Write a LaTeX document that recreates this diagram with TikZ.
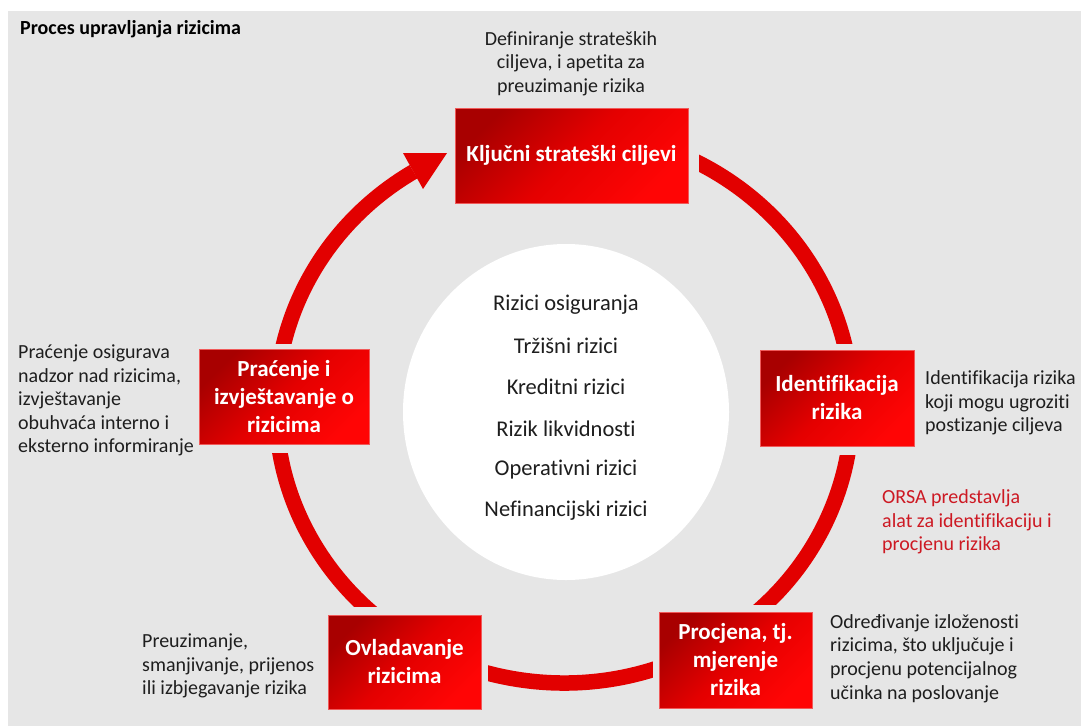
\documentclass[tikz,border=0pt]{standalone}
\usepackage{fontspec}
\setmainfont{Carlito}[Ligatures=NoCommon]
\definecolor{bggray}{RGB}{230,230,230}
\definecolor{ringred}{RGB}{226,0,0}
\definecolor{boxdark}{RGB}{168,0,0}
\definecolor{boxmid}{RGB}{228,0,0}
\definecolor{boxred}{RGB}{255,5,5}
\definecolor{boxedge}{RGB}{240,90,90}
\definecolor{txt}{RGB}{30,30,30}
\definecolor{orsared}{RGB}{205,25,35}
\newcommand\boxfont{\fontsize{23}{28}\selectfont\bfseries}
\newcommand\descfont{\fontsize{20}{23.6}\selectfont}
\newcommand\riskfont{\fontsize{22.5}{26}\selectfont}
\newcommand\titlefont{\fontsize{20}{23}\selectfont\bfseries}
\pgfdeclarelayer{back}
\pgfdeclarelayer{ringlayer}
\pgfdeclarelayer{gaplayer}
\pgfsetlayers{back,ringlayer,gaplayer,main}
\begin{document}
\begin{tikzpicture}[x=1pt,y=1pt,
  stepbox/.style={draw=boxedge, line width=0.5pt, top color=boxdark, bottom color=boxred, middle color=boxmid, shading angle=45,
     text=white, font=\boxfont, align=center, inner sep=0pt},
  desc/.style={font=\descfont, text=txt, inner sep=0pt},
  risk/.style={font=\riskfont, text=txt, inner sep=0pt, anchor=center},
  ring/.style={draw=ringred, line width=15.5pt},
  gapfill/.style={fill=bggray}]
\useasboundingbox (0,0) rectangle (1081,-726);
\begin{pgfonlayer}{back}
  \fill[white] (0,0) rectangle (1081,-726);
  \fill[bggray] (8,-11) rectangle (1081,-726);
  \fill[white] (566,-412) ellipse[x radius=163pt, y radius=168pt];
\end{pgfonlayer}

% title
\node[font=\titlefont, text=black, inner sep=0pt, anchor=base west] (title) at (20,-34) {Proces upravljanja rizicima};

% boxes
\node[stepbox, minimum width=233pt, minimum height=95pt] (kljucni) at (571.5,-155.5) {Ključni strateški ciljevi};
\node[stepbox, minimum width=154pt, minimum height=96pt] (ident) at (837,-398) {Identifikacija\\rizika};
\node[stepbox, minimum width=153pt, minimum height=96pt] (procjena) at (735.5,-660) {Procjena, tj.\\mjerenje\\rizika};
\node[stepbox, minimum width=153pt, minimum height=94pt] (ovlad) at (404.5,-662) {Ovladavanje\\rizicima};
\node[stepbox, minimum width=170pt, minimum height=95pt] (pracenje) at (284,-396.5) {Praćenje i\\izvještavanje o\\rizicima};

% ring
\coordinate (C) at (564,-407);
\begin{pgfonlayer}{ringlayer}
  \draw[ring] (C) ++(121.5:288pt and 276pt) coordinate (arrowbase)
     arc[start angle=121.5, end angle=432, x radius=288pt, y radius=276pt];
\end{pgfonlayer}
\begin{pgfonlayer}{gaplayer}
  \fill[gapfill] ([shift={(-10,10)}]kljucni.north west) rectangle ([shift={(11,-10)}]kljucni.south east);
  \fill[gapfill] ([shift={(-7,6)}]ident.north west) rectangle ([shift={(7,-9)}]ident.south east);
  \fill[gapfill] ([shift={(-6,7)}]procjena.north west) rectangle ([shift={(7,-7)}]procjena.south east);
  \fill[gapfill] ([shift={(-7,8)}]ovlad.north west) rectangle ([shift={(7,-7)}]ovlad.south east);
  \fill[gapfill] ([shift={(-7,5)}]pracenje.north west) rectangle ([shift={(7,-9)}]pracenje.south east);
\end{pgfonlayer}
% arrow head
\fill[ringred] (403,-153) coordinate (ah1) -- (447,-153) coordinate (ahtip) -- (423,-189) coordinate (ah2) -- cycle;

% center risks
\node[risk] (r1) at (566,-305) {Rizici osiguranja};
\node[risk] (r2) at (566,-346) {Tržišni rizici};
\node[risk] (r3) at (566,-387) {Kreditni rizici};
\node[risk] (r4) at (566,-429) {Rizik likvidnosti};
\node[risk] (r5) at (566,-470) {Operativni rizici};
\node[risk] (r6) at (566,-511) {Nefinancijski rizici};

% descriptions
\node[desc, align=center] (dtop) at (571,-63.5) {Definiranje strateških\\ciljeva, i apetita za\\preuzimanje rizika};
\node[desc, align=left, anchor=west] (dident) at (925,-403) {Identifikacija rizika\\koji mogu ugroziti\\postizanje ciljeva};
\node[desc, align=left, anchor=west, text=orsared] (dorsa) at (882,-522) {ORSA predstavlja\\alat za identifikaciju i\\procjenu rizika};
\node[desc, align=left, anchor=west] (dproc) at (830,-658.5) {Određivanje izloženosti\\rizicima, što uključuje i\\procjenu potencijalnog\\učinka na poslovanje};
\node[desc, align=left, anchor=west] (dovl) at (142,-666) {Preuzimanje,\\smanjivanje, prijenos\\ili izbjegavanje rizika};
\node[desc, align=left, anchor=west] (dprac) at (18,-400.5) {Praćenje osigurava\\nadzor nad rizicima,\\izvještavanje\\obuhvaća interno i\\eksterno informiranje};
\end{tikzpicture}
\end{document}
